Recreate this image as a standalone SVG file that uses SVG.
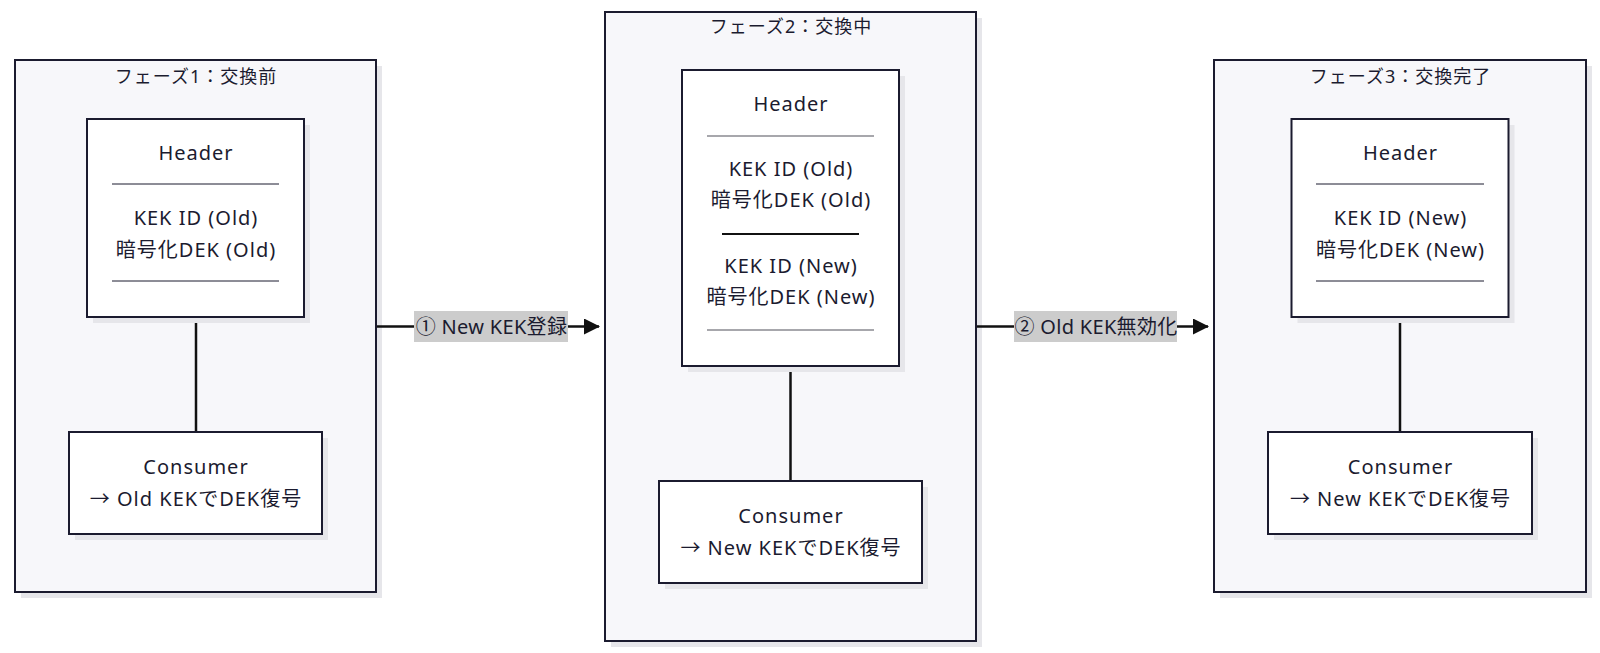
<svg xmlns="http://www.w3.org/2000/svg" width="1600" height="653" viewBox="0 0 1600 653">
<style>
text{font-family:"Noto Sans","Noto Sans CJK JP",sans-serif;fill:#1b1b2f;text-anchor:middle;letter-spacing:1px}
.t{font-size:18px}
.n{font-size:20px}
.cl{fill:#f7f7fa;stroke:#1b1b2f;stroke-width:2}
.bx{fill:#ffffff;stroke:#1b1b2f;stroke-width:2}
.sh{fill:#e6e6ea}
.dv{stroke:#1b1b2f;stroke-width:1}
.dg{stroke:#8a8a90;stroke-width:1.5}
.db{stroke:#111;stroke-width:2}
.ln{stroke:#111;stroke-width:2.5;fill:none}
.lb{fill:#cccccc}
</style>
<defs>
<marker id="ah" markerWidth="16" markerHeight="16" refX="15" refY="8" orient="auto" markerUnits="userSpaceOnUse">
<path d="M0,0 L16,8 L0,16 Z" fill="#111"/>
</marker>
</defs>

<g id="phase1">
<rect class="sh" x="21" y="66" width="361" height="532"/>
<rect class="cl" x="15" y="60" width="361" height="532"/>
<text class="t" x="196" y="83">フェーズ1：交換前</text>
</g>
<g id="phase2">
<rect class="sh" x="611" y="18" width="371" height="629"/>
<rect class="cl" x="605" y="12" width="371" height="629"/>
<text class="t" x="791" y="33">フェーズ2：交換中</text>
</g>
<g id="phase3">
<rect class="sh" x="1220" y="66" width="372" height="532"/>
<rect class="cl" x="1214" y="60" width="372" height="532"/>
<text class="t" x="1400.5" y="83">フェーズ3：交換完了</text>
</g>

<g id="connectors">
<line class="ln" x1="196" y1="317" x2="196" y2="432"/>
<line class="ln" x1="790.5" y1="366" x2="790.5" y2="481"/>
<line class="ln" x1="1400" y1="317" x2="1400" y2="432"/>
<line class="ln" x1="377" y1="326.5" x2="599" y2="326.5" marker-end="url(#ah)"/>
<line class="ln" x1="977" y1="326.5" x2="1208" y2="326.5" marker-end="url(#ah)"/>
<rect class="lb" x="414" y="311" width="154" height="31"/>
<text class="n" x="491.5" y="334" style="letter-spacing:0.3px">① New KEK登録</text>
<rect class="lb" x="1014" y="311" width="163" height="31"/>
<text class="n" x="1096" y="334" style="letter-spacing:0.3px">② Old KEK無効化</text>
</g>

<g id="header1">
<rect class="sh" x="93" y="125" width="217" height="198"/>
<rect class="bx" x="87" y="119" width="217" height="198"/>
<text class="n" x="196" y="160">Header</text>
<line class="dv" x1="112" y1="184" x2="279" y2="184"/>
<text class="n" x="196" y="225">KEK ID (Old)</text>
<text class="n" x="196" y="257">暗号化DEK (Old)</text>
<line class="dv" x1="112" y1="281" x2="279" y2="281"/>
</g>
<g id="consumer1">
<rect class="sh" x="75" y="438" width="253" height="102"/>
<rect class="bx" x="69" y="432" width="253" height="102"/>
<text class="n" x="196" y="474">Consumer</text>
<text class="n" x="196" y="506">→ Old KEKでDEK復号</text>
</g>

<g id="header2">
<rect class="sh" x="688" y="76" width="217" height="296"/>
<rect class="bx" x="682" y="70" width="217" height="296"/>
<text class="n" x="791" y="111">Header</text>
<line class="dg" x1="707" y1="136" x2="874" y2="136"/>
<text class="n" x="791" y="176">KEK ID (Old)</text>
<text class="n" x="791" y="207">暗号化DEK (Old)</text>
<line class="db" x1="722" y1="234" x2="859" y2="234"/>
<text class="n" x="791" y="273">KEK ID (New)</text>
<text class="n" x="791" y="304">暗号化DEK (New)</text>
<line class="dg" x1="707" y1="330" x2="874" y2="330"/>
</g>
<g id="consumer2">
<rect class="sh" x="665" y="487" width="263" height="102"/>
<rect class="bx" x="659" y="481" width="263" height="102"/>
<text class="n" x="791" y="523">Consumer</text>
<text class="n" x="791" y="555">→ New KEKでDEK復号</text>
</g>

<g id="header3">
<rect class="sh" x="1297.5" y="125" width="217" height="198"/>
<rect class="bx" x="1291.5" y="119" width="217" height="198"/>
<text class="n" x="1400.5" y="160">Header</text>
<line class="dv" x1="1316" y1="184" x2="1484" y2="184"/>
<text class="n" x="1400.5" y="225">KEK ID (New)</text>
<text class="n" x="1400.5" y="257">暗号化DEK (New)</text>
<line class="dv" x1="1316" y1="281" x2="1484" y2="281"/>
</g>
<g id="consumer3">
<rect class="sh" x="1274" y="438" width="264" height="102"/>
<rect class="bx" x="1268" y="432" width="264" height="102"/>
<text class="n" x="1400.5" y="474">Consumer</text>
<text class="n" x="1400.5" y="506">→ New KEKでDEK復号</text>
</g>
</svg>
